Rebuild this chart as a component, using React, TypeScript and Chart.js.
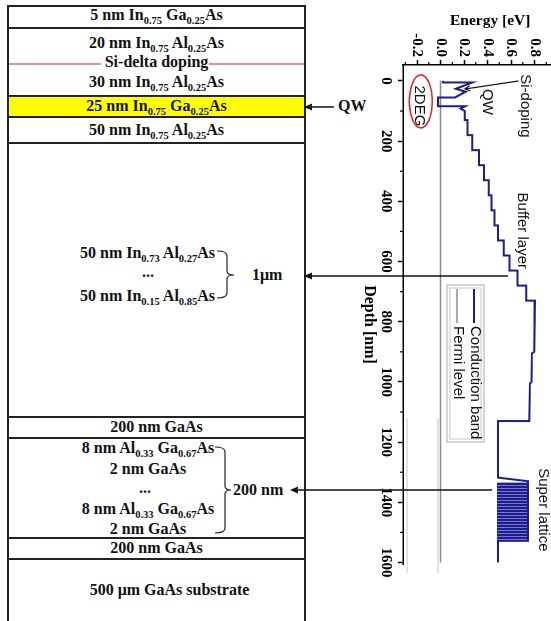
import React, { useEffect, useRef } from 'react';
import { Chart, registerables } from 'chart.js';

Chart.register(...registerables);

// ---------- chart data (pre-rotation: x = depth [nm], y = energy [eV]) ----------
const depthTicks = [0, 200, 400, 600, 800, 1000, 1200, 1400, 1600];
const depthMinorTicks = [100, 300, 500, 700, 900, 1100, 1300, 1500];
const energyTicks = [-0.2, 0.0, 0.2, 0.4, 0.6, 0.8];
const energyMinorTicks = [-0.3, -0.1, 0.1, 0.3, 0.5, 0.7, 0.9];

const bandDepth = [
  0, 5, 5, 26, 36, 55, 55, 84, 84, 92, 100, 130,
  130, 180, 180, 230, 230, 280, 280, 330, 330, 380, 380, 430, 430, 480,
  480, 530, 530, 580, 580, 630, 630, 680, 680, 730, 730, 900, 905, 1000, 1005, 1130,
  1130, 1318,
  1330, 1338, 1338, 1340,
  1340, 1348, 1348, 1350,
  1350, 1358, 1358, 1360,
  1360, 1368, 1368, 1370,
  1370, 1378, 1378, 1380,
  1380, 1388, 1388, 1390,
  1390, 1398, 1398, 1400,
  1400, 1408, 1408, 1410,
  1410, 1418, 1418, 1420,
  1420, 1428, 1428, 1430,
  1430, 1438, 1438, 1440,
  1440, 1448, 1448, 1450,
  1450, 1458, 1458, 1460,
  1460, 1468, 1468, 1470,
  1470, 1478, 1478, 1480,
  1480, 1488, 1488, 1490,
  1490, 1498, 1498, 1500,
  1500, 1508, 1508, 1510,
  1510, 1518, 1518, 1520,
  1520, 1528, 1528, 1530,
  1600,
];
const bandEnergy = [
  0.02, 0.02, 0.27, 0.13, 0.213, 0.123, -0.022, -0.022, 0.21, 0.17, 0.205, 0.205,
  0.229, 0.229, 0.27, 0.27, 0.328, 0.328, 0.369, 0.369, 0.41, 0.41, 0.434, 0.434, 0.459, 0.459,
  0.488, 0.488, 0.537, 0.537, 0.586, 0.586, 0.656, 0.656, 0.729, 0.729, 0.803, 0.798, 0.779, 0.775, 0.762, 0.755,
  0.49, 0.49,
  0.745, 0.745, 0.49, 0.49,
  0.745, 0.745, 0.49, 0.49,
  0.745, 0.745, 0.49, 0.49,
  0.745, 0.745, 0.49, 0.49,
  0.745, 0.745, 0.49, 0.49,
  0.745, 0.745, 0.49, 0.49,
  0.745, 0.745, 0.49, 0.49,
  0.745, 0.745, 0.49, 0.49,
  0.745, 0.745, 0.49, 0.49,
  0.745, 0.745, 0.49, 0.49,
  0.745, 0.745, 0.49, 0.49,
  0.745, 0.745, 0.49, 0.49,
  0.745, 0.745, 0.49, 0.49,
  0.745, 0.745, 0.49, 0.49,
  0.745, 0.745, 0.49, 0.49,
  0.745, 0.745, 0.49, 0.49,
  0.745, 0.745, 0.49, 0.49,
  0.745, 0.745, 0.49, 0.49,
  0.745, 0.745, 0.49, 0.49,
  0.745, 0.745, 0.49, 0.49,
  0.49,
];
const fermiDepth = [0, 1600];
const fermiEnergy = [0, 0];
const twoDegDepth = [57, 84];
const twoDegEnergy = [-0.022, -0.022];

const seriesLabels = ['Conduction band', 'Fermi level'];
const annotationLabels = ['Si-doping', 'QW', '2DEG', 'Buffer layer', 'Super lattice'];
const annotationDepth = [83, 70, 83, 498, 1425];
const annotationEnergy = [0.721, 0.393, -0.181, 0.697, 0.877];
const arrowDepth = [0, 27];
const arrowEnergy = [0.664, 0.205];
const ellipseDepth = 68;
const ellipseEnergy = -0.168;

const serif = '"Liberation Serif", "Times New Roman", serif';
const sans = '"Liberation Sans", Arial, sans-serif';
const bandColor = '#1c1c94';
const fermiColor = '#8c8c8c';

const overlayPlugin = {
  id: 'overlay',
  afterDraw(chart: any) {
    const { ctx, chartArea, scales } = chart;
    const xs = scales.x;
    const ys = scales.y;
    ctx.save();
    // minor ticks
    ctx.strokeStyle = '#000';
    ctx.lineWidth = 1.2;
    depthMinorTicks.forEach((v) => {
      const px = xs.getPixelForValue(v);
      ctx.beginPath();
      ctx.moveTo(px, chartArea.bottom);
      ctx.lineTo(px, chartArea.bottom + 3);
      ctx.stroke();
    });
    energyMinorTicks.forEach((v) => {
      const py = ys.getPixelForValue(v);
      if (py < chartArea.top || py > chartArea.bottom) return;
      ctx.beginPath();
      ctx.moveTo(chartArea.left, py);
      ctx.lineTo(chartArea.left - 3, py);
      ctx.stroke();
    });
    // annotation texts
    ctx.font = `15px ${sans}`;
    ctx.fillStyle = '#111';
    ctx.textAlign = 'center';
    ctx.textBaseline = 'middle';
    annotationLabels.forEach((t, i) => {
      ctx.fillText(t, xs.getPixelForValue(annotationDepth[i]), ys.getPixelForValue(annotationEnergy[i]));
    });
    // Si-doping arrow
    const x1 = xs.getPixelForValue(arrowDepth[0]);
    const y1 = ys.getPixelForValue(arrowEnergy[0]);
    const x2 = xs.getPixelForValue(arrowDepth[1]);
    const y2 = ys.getPixelForValue(arrowEnergy[1]);
    ctx.strokeStyle = '#111';
    ctx.lineWidth = 1.2;
    ctx.beginPath();
    ctx.moveTo(x1, y1);
    ctx.lineTo(x2, y2);
    const ang = Math.atan2(y2 - y1, x2 - x1);
    ctx.moveTo(x2, y2);
    ctx.lineTo(x2 - 6 * Math.cos(ang - 0.45), y2 - 6 * Math.sin(ang - 0.45));
    ctx.moveTo(x2, y2);
    ctx.lineTo(x2 - 6 * Math.cos(ang + 0.45), y2 - 6 * Math.sin(ang + 0.45));
    ctx.stroke();
    // 2DEG ellipse
    ctx.strokeStyle = '#e02424';
    ctx.lineWidth = 1.5;
    ctx.beginPath();
    ctx.ellipse(xs.getPixelForValue(ellipseDepth), ys.getPixelForValue(ellipseEnergy), 26.5, 11.5, 0, 0, Math.PI * 2);
    ctx.stroke();
    // legend
    const bx = 285, by = 86, bw = 157, bh = 37;
    ctx.strokeStyle = '#aaa';
    ctx.lineWidth = 1;
    ctx.strokeRect(bx, by, bw, bh);
    ctx.strokeStyle = '#c8c8c8';
    ctx.strokeRect(bx + 3, by + 3, bw - 6, bh - 6);
    const rows = [96, 113];
    const colors = [bandColor, fermiColor];
    ctx.font = `15px ${sans}`;
    ctx.textAlign = 'left';
    ctx.textBaseline = 'middle';
    rows.forEach((ry, i) => {
      ctx.strokeStyle = colors[i];
      ctx.lineWidth = i === 0 ? 2 : 1.5;
      ctx.beginPath();
      ctx.moveTo(bx + 4, ry);
      ctx.lineTo(bx + 38, ry);
      ctx.stroke();
      ctx.fillStyle = '#111';
      ctx.fillText(seriesLabels[i], bx + 41, ry - 1);
    });
    ctx.restore();
  },
};

function Sub({ children }: { children: React.ReactNode }) {
  return <span style={{ fontSize: 10.5, position: 'relative', top: 4 }}>{children}</span>;
}

function T({ y, left = 8, width = 297, align = 'center', children }: any) {
  return (
    <div
      style={{
        position: 'absolute',
        left,
        width,
        top: y - 10,
        height: 20,
        lineHeight: '20px',
        textAlign: align,
        fontFamily: serif,
        fontWeight: 'bold',
        fontSize: 16,
        color: '#111',
        whiteSpace: 'nowrap',
      }}
    >
      {children}
    </div>
  );
}

export default function App() {
  const ref = useRef<HTMLCanvasElement>(null);
  useEffect(() => {
    const tickFont = { family: serif, size: 15, weight: 'bold' as const };
    const depthTitleFont = { family: serif, size: 16, weight: 'bold' as const };
    const energyTitleFont = { family: serif, size: 15.5, weight: 'bold' as const };
    const chart = new Chart(ref.current as HTMLCanvasElement, {
      type: 'scatter',
      data: {
        datasets: [
          {
            label: seriesLabels[0],
            data: bandDepth.map((d, i) => ({ x: d, y: bandEnergy[i] })),
            showLine: true,
            borderColor: bandColor,
            backgroundColor: bandColor,
            borderWidth: 2,
            pointRadius: 0,
            fill: false,
            order: 0,
          },
          {
            label: seriesLabels[1],
            data: fermiDepth.map((d, i) => ({ x: d, y: fermiEnergy[i] })),
            showLine: true,
            borderColor: fermiColor,
            backgroundColor: fermiColor,
            borderWidth: 1.5,
            pointRadius: 0,
            fill: false,
            order: 1,
          },
          {
            label: '2DEG',
            data: twoDegDepth.map((d, i) => ({ x: d, y: twoDegEnergy[i] })),
            showLine: true,
            borderColor: 'rgba(0,0,0,0)',
            backgroundColor: '#ffff00',
            borderWidth: 0,
            pointRadius: 0,
            fill: { value: 0 },
            order: 2,
          },
        ],
      },
      options: {
        animation: false,
        responsive: false,
        devicePixelRatio: 1,
        events: [],
        layout: { padding: { top: 6, right: 57, bottom: 0, left: 0 } },
        plugins: { legend: { display: false }, tooltip: { enabled: false } },
        scales: {
          x: {
            type: 'linear',
            position: 'bottom',
            min: -53,
            max: 1605,
            afterBuildTicks: (s: any) => {
              s.ticks = depthTicks.map((v) => ({ value: v }));
            },
            afterFit: (s: any) => {
              s.height = 103;
            },
            grid: { drawOnChartArea: false, drawTicks: true, tickLength: 5, tickWidth: 1.5, tickColor: '#000' },
            border: { display: true, color: '#000', width: 1.5 },
            ticks: {
              font: tickFont,
              color: '#000',
              padding: 3,
              maxRotation: 0,
              minRotation: 0,
              autoSkip: false,
              callback: (v: any) => String(v),
            },
            title: {
              display: true,
              text: '     Depth [nm]',
              font: depthTitleFont,
              color: '#000',
              padding: { top: 0, bottom: 60 },
            },
          },
          y: {
            type: 'linear',
            position: 'left',
            min: -0.32,
            max: 1.0,
            afterBuildTicks: (s: any) => {
              s.ticks = energyTicks.map((v) => ({ value: v }));
            },
            afterFit: (s: any) => {
              s.width = 65;
            },
            grid: { drawOnChartArea: false, drawTicks: true, tickLength: 5, tickWidth: 1.5, tickColor: '#000' },
            border: { display: true, color: '#000', width: 1.5 },
            ticks: {
              font: tickFont,
              color: '#000',
              padding: 3,
              autoSkip: false,
              callback: (v: any) => Number(v).toFixed(1),
            },
            title: {
              display: true,
              text: '     Energy [eV]',
              font: energyTitleFont,
              color: '#000',
              padding: { top: 12, bottom: 0 },
            },
          },
        },
      },
      plugins: [overlayPlugin],
    } as any);
    return () => chart.destroy();
  }, []);

  const hLines = [6, 28, 96, 117, 143, 417, 438, 538, 559];

  return (
    <div style={{ position: 'fixed', left: 0, top: 0, width: 551, height: 621, overflow: 'hidden', background: '#fff' }}>
      <svg width={551} height={621} style={{ position: 'absolute', left: 0, top: 0 }}>
        <rect x={8} y={96} width={297} height={21} fill="#ffff00" />
        <line x1={8} y1={64} x2={101} y2={64} stroke="#e31a1c" strokeWidth={1.2} />
        <line x1={209} y1={64} x2={305} y2={64} stroke="#e31a1c" strokeWidth={1.2} />
        {hLines.map((y) => (
          <line key={y} x1={7} y1={y} x2={306} y2={y} stroke="#222" strokeWidth={2} />
        ))}
        <line x1={8} y1={5} x2={8} y2={621} stroke="#222" strokeWidth={2} />
        <line x1={305} y1={5} x2={305} y2={621} stroke="#222" strokeWidth={2} />
        <path d="M 217 251 Q 227 251 227 256 L 227 271 Q 227 275 234 275 Q 227 275 227 279 L 227 293 Q 227 298 217 298" fill="none" stroke="#222" strokeWidth={1.2} />
        <path d="M 215 447 Q 225 447 225 452 L 225 486 Q 225 490 231 490 Q 225 490 225 494 L 225 528 Q 225 533 215 533" fill="none" stroke="#222" strokeWidth={1.2} />
        <line x1={407} y1={418} x2={407} y2={573} stroke="#d0d0d0" strokeWidth={1.2} />
        <line x1={438} y1={418} x2={438} y2={573} stroke="#d0d0d0" strokeWidth={1.2} />
      </svg>

      <T y={15}>5 nm In<Sub>0.75</Sub> Ga<Sub>0.25</Sub>As</T>
      <T y={43}>20 nm In<Sub>0.75</Sub> Al<Sub>0.25</Sub>As</T>
      <T y={62}>Si-delta doping</T>
      <T y={82}>30 nm In<Sub>0.75</Sub> Al<Sub>0.25</Sub>As</T>
      <T y={106}>25 nm In<Sub>0.75</Sub> Ga<Sub>0.25</Sub>As</T>
      <T y={130}>50 nm In<Sub>0.75</Sub> Al<Sub>0.25</Sub>As</T>
      <T y={253} left={0} width={215} align="right">50 nm In<Sub>0.73</Sub> Al<Sub>0.27</Sub>As</T>
      <T y={272} left={98} width={100}>...</T>
      <T y={296} left={0} width={215} align="right">50 nm In<Sub>0.15</Sub> Al<Sub>0.85</Sub>As</T>
      <T y={275} left={252} width={60} align="left">1μm</T>
      <T y={427}>200 nm GaAs</T>
      <T y={448} left={48} width={200}>8 nm Al<Sub>0.33</Sub> Ga<Sub>0.67</Sub>As</T>
      <T y={469} left={48} width={200}>2 nm GaAs</T>
      <T y={488} left={95} width={100}>...</T>
      <T y={509} left={48} width={200}>8 nm Al<Sub>0.33</Sub> Ga<Sub>0.67</Sub>As</T>
      <T y={529} left={48} width={200}>2 nm GaAs</T>
      <T y={490} left={233} width={60} align="left">200 nm</T>
      <T y={548}>200 nm GaAs</T>
      <T y={590} left={34} width={271}>500 μm GaAs substrate</T>
      <T y={106} left={338} width={40} align="left">QW</T>

      <div
        style={{
          position: 'absolute',
          left: 300,
          top: 0,
          width: 621,
          height: 270,
          transformOrigin: '0 0',
          transform: 'translate(270px, 0px) rotate(90deg)',
        }}
      >
        <canvas ref={ref} width={621} height={270} style={{ display: 'block', width: 621, height: 270 }} />
      </div>

      <svg width={551} height={621} style={{ position: 'absolute', left: 0, top: 0 }}>
        <line x1={306} y1={107} x2={334} y2={107} stroke="#111" strokeWidth={1.5} />
        <polygon points="304,107 312,103.5 312,110.5" fill="#111" />
        <line x1={306} y1={276} x2={508} y2={276} stroke="#111" strokeWidth={1.5} />
        <polygon points="304,276 312,272.5 312,279.5" fill="#111" />
        <line x1={292} y1={490} x2={492} y2={490} stroke="#111" strokeWidth={1.5} />
        <polygon points="290,490 298,486.5 298,493.5" fill="#111" />
      </svg>
    </div>
  );
}
